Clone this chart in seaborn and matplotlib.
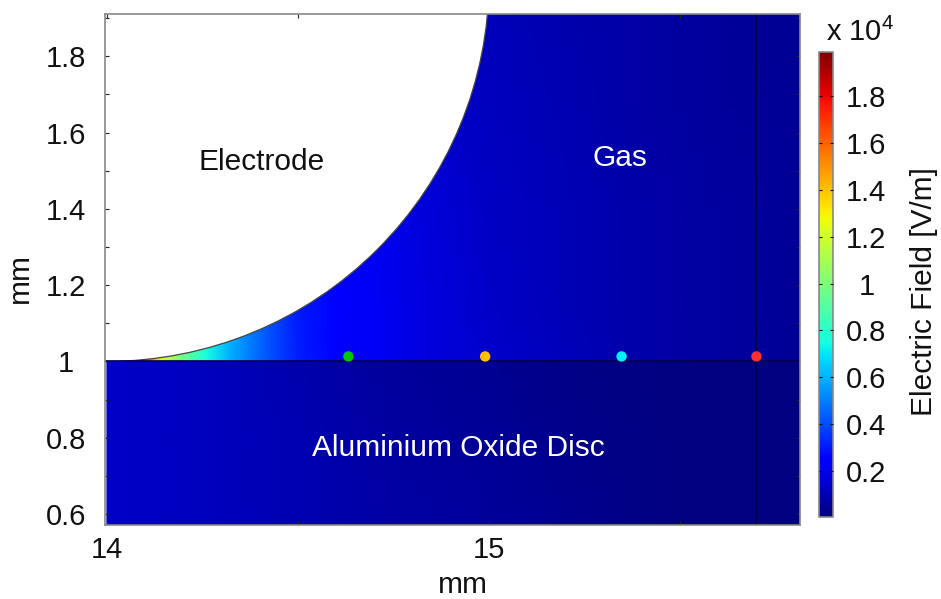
import numpy as np
import matplotlib
matplotlib.use("Agg")
import matplotlib.pyplot as plt
from matplotlib.patches import Circle
import seaborn as sns

# ---- data (field in units of 1e4 V/m) ----
gas_x = [14, 14.09, 14.115, 14.14, 14.19, 14.26, 14.32, 14.37, 14.43, 14.5,
         14.6, 14.7, 14.8, 14.9, 15, 15.2, 15.4, 15.6, 15.814]
gas_y = [1.0, 1.15, 1.4, 1.65, 1.911]
gas_row_100 = [1.95, 1.8, 1.5, 1.25, 1.0, .75, .6, .5, .4, .31, .25, .21, .18, .155, .135, .105, .08, .06, .045]
gas_row_115 = [1.95, 1.8, 1.5, 1.25, 1.0, .75, .6, .5, .4, .30, .25, .21, .18, .155, .13, .10, .08, .06, .045]
gas_row_140 = [1.95, 1.8, 1.5, 1.25, 1.0, .75, .6, .5, .4, .30, .25, .20, .17, .145, .125, .10, .078, .058, .045]
gas_row_165 = [1.95, 1.8, 1.5, 1.25, 1.0, .75, .6, .5, .4, .30, .25, .20, .16, .13, .115, .092, .072, .055, .042]
gas_row_191 = [1.95, 1.8, 1.5, 1.25, 1.0, .75, .6, .5, .4, .30, .25, .20, .16, .125, .105, .085, .068, .052, .04]

disc_x = [14, 14.25, 14.5, 14.75, 15, 15.25, 15.5, 15.814]
disc_y = [0.571, 0.8, 1.0]
disc_row_057 = [.13, .115, .095, .07, .05, .03, .01, .005]
disc_row_080 = [.13, .115, .09, .065, .045, .025, .01, .005]
disc_row_100 = [.13, .115, .085, .055, .035, .018, .008, .005]

probe_x = [14.632, 14.99, 15.347, 15.70]
probe_y = [1.013, 1.013, 1.013, 1.013]
probe_colors = ["#00c800", "#ffc000", "#00f0ff", "#ff3030"]

x_ticks = [14, 14.5, 15, 15.5]
x_labels = ["14", "", "15", ""]
y_ticks = [0.6, 0.8, 1.0, 1.2, 1.4, 1.6, 1.8]
y_minor_ticks = [0.7, 0.9, 1.1, 1.3, 1.5, 1.7, 1.9]
y_labels = ["0.6", "0.8", "1", "1.2", "1.4", "1.6", "1.8"]
cb_ticks = [0.2, 0.4, 0.6, 0.8, 1.0, 1.2, 1.4, 1.6, 1.8]
cb_labels = ["0.2", "0.4", "0.6", "0.8", "1", "1.2", "1.4", "1.6", "1.8"]
field_min, field_max = 0.003, 1.99

sns.set_theme(style="white")
plt.rcParams["font.family"] = ["Liberation Sans", "DejaVu Sans"]
plt.rcParams["mathtext.fontset"] = "custom"
plt.rcParams["mathtext.rm"] = "Liberation Sans"
plt.rcParams["mathtext.default"] = "regular"
plt.rcParams["text.color"] = "#111111"

W, H = 941, 599
FS = 21.5
TICK_FS = 21
INK = "#111111"
fig = plt.figure(figsize=(W / 100, H / 100), dpi=100)


def box(l, t, r, b):
    return [l / W, 1 - b / H, (r - l) / W, (b - t) / H]


ax = fig.add_axes(box(105, 14, 800, 525))
ax.set_axisbelow(False)
cmap = matplotlib.colormaps["jet"]

gas_field = np.array([gas_row_100, gas_row_115, gas_row_140, gas_row_165, gas_row_191])
disc_field = np.array([disc_row_057, disc_row_080, disc_row_100])
GX, GY = np.meshgrid(gas_x, gas_y)
DX, DY = np.meshgrid(disc_x, disc_y)
mesh = ax.pcolormesh(GX, GY, gas_field, shading="gouraud", cmap=cmap,
                     vmin=field_min, vmax=field_max, zorder=1)
ax.pcolormesh(DX, DY, disc_field, shading="gouraud", cmap=cmap,
              vmin=field_min, vmax=field_max, zorder=1)

# electrode: unit-radius circle tangent to the disc
ax.add_patch(Circle((14, 2), 1, facecolor="white", edgecolor="#444444", lw=0.9, zorder=2))

ax.axhline(1.0, color="#000050", lw=1.2, zorder=3)
ax.axvline(15.70, color="#000040", lw=1.2, zorder=3)

sns.scatterplot(x=probe_x, y=probe_y, hue=probe_x, palette=probe_colors, s=56,
                linewidth=0, legend=False, ax=ax, zorder=4)

ax.set_xlim(13.995, 15.814)
ax.set_ylim(0.571, 1.911)
ax.set_xticks(x_ticks, x_labels)
ax.set_yticks(y_ticks, y_labels)
ax.set_yticks(y_minor_ticks, minor=True)
ax.tick_params(axis="both", which="both", direction="in", length=3, width=0.8,
               color="#222222", labelsize=TICK_FS, labelcolor=INK,
               top=True, right=True, bottom=True, left=True)
ax.tick_params(axis="x", pad=8)
ax.tick_params(axis="y", which="major", pad=28)
for t in ax.get_yticklabels():
    t.set_horizontalalignment("center")
for s in ax.spines.values():
    s.set_color("#888888")
    s.set_linewidth(1.2)
    s.set_zorder(5)

ax.text(14.406, 1.524, "Electrode", color=INK, fontsize=FS, ha="center", va="center", zorder=6)
ax.text(15.343, 1.534, "Gas", color="white", fontsize=FS, ha="center", va="center", zorder=6)
ax.text(14.921, 0.772, "Aluminium Oxide Disc", color="white", fontsize=FS, ha="center", va="center", zorder=6)

fig.text(463 / W, 1 - 585 / H, "mm", fontsize=FS, ha="center", va="center")
fig.text(20 / W, 1 - 278 / H, "mm", fontsize=FS, ha="center", va="center", rotation=90)

cax = fig.add_axes(box(819, 52, 833, 517))
cb = fig.colorbar(mesh, cax=cax)
cb.set_ticks(cb_ticks, labels=cb_labels)
cax.set_axisbelow(False)
cax.tick_params(axis="y", direction="in", length=2, width=0.8, color=INK,
                labelsize=TICK_FS, labelcolor=INK, left=True, right=True, pad=24)
for t in cax.get_yticklabels():
    t.set_horizontalalignment("center")
cb.outline.set_edgecolor("#888888")
cb.outline.set_linewidth(1.2)

fig.text(924 / W, 1 - 292 / H, "Electric Field [V/m]", fontsize=FS, ha="center", va="center", rotation=90)
fig.text(860 / W, 1 - 32 / H, "x 10$^{4}$", fontsize=TICK_FS, ha="center", va="center")

fig.savefig("out.png", dpi=100)
